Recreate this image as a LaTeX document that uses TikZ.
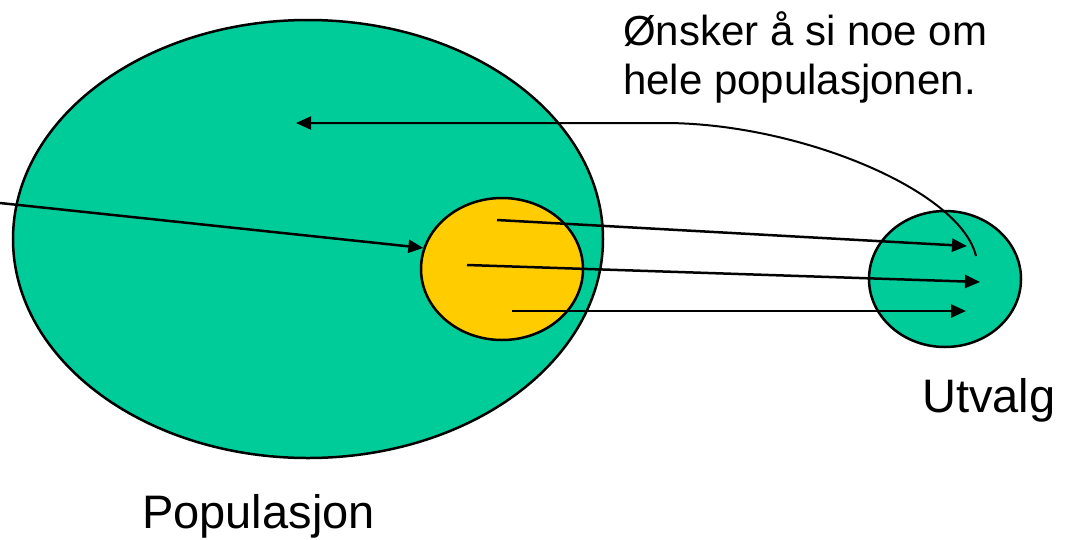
\documentclass[tikz,border=0pt]{standalone}
\usepackage{fontspec}
\setmainfont{Liberation Sans}
\usetikzlibrary{shapes.geometric,arrows.meta}
\definecolor{popgreen}{RGB}{0,204,153}
\definecolor{subyellow}{RGB}{255,204,0}
\begin{document}
\begin{tikzpicture}[x=1pt,y=-1pt,
    blob/.style={ellipse,draw,line width=2.5pt,inner sep=0pt},
    arr/.style={-{Triangle[length=15pt,width=13pt]},line width=2.5pt},
    lbl/.style={inner sep=0pt,anchor=base west,font=\fontsize{47}{52}\selectfont}]
\useasboundingbox (0,0) rectangle (1066,539);

% populasjon, delmengde og utvalg
\node[blob,fill=popgreen,minimum width=590pt,minimum height=438pt] (pop) at (308,239) {};
\node[blob,fill=subyellow,minimum width=162pt,minimum height=142pt] (del) at (502,269) {};
\node[blob,fill=popgreen,minimum width=152pt,minimum height=136pt] (utv) at (945,279) {};

% endepunkter for pilene
\coordinate (inn) at (0,203);
\coordinate (s1) at (497,220);
\coordinate (s2) at (467,265);
\coordinate (s3) at (512,311);
\coordinate (e1) at (967,246);
\coordinate (e2) at (980,282);
\coordinate (e3) at (966,311);
\coordinate (k0) at (976,256);
\coordinate (k1) at (667,123);
\coordinate (k2) at (296,123);

\draw[arr] (inn) -- (del.165);
\draw[arr] (s1) -- (e1);
\draw[arr] (s2) -- (e2);
\draw[arr] (s3) -- (e3);
\draw[arr,line width=2pt] (k0) .. controls (960,190) and (800,124) .. (k1) -- (k2);

\node[inner sep=0pt,anchor=north west,align=left,font=\fontsize{42}{49}\selectfont] (mal) at (623,11)
    {Ønsker å si noe om\\hele populasjonen.};
\node[lbl] (poplbl) at (142,528) {Populasjon};
\node[lbl] (utvlbl) at (922,412) {Utvalg};
\end{tikzpicture}
\end{document}
